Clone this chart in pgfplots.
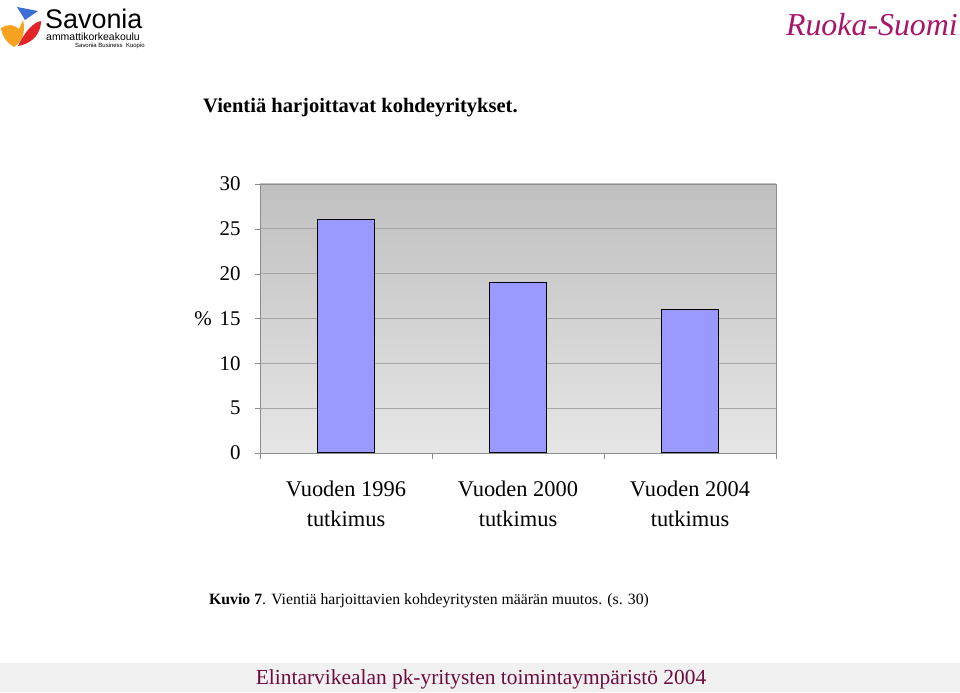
\documentclass[border=0pt]{standalone}
\usepackage{fontspec}
\setmainfont{Liberation Serif}
\setsansfont{Liberation Sans}
\usepackage{pgfplots}
\pgfplotsset{compat=1.18}
\definecolor{barblue}{HTML}{9999FF}
\definecolor{gridgray}{HTML}{A6A6A6}
\definecolor{framegray}{HTML}{8C8C8C}
\definecolor{footmaroon}{HTML}{6E0C3E}
\definecolor{ruoka}{HTML}{A8146A}
\definecolor{savred}{HTML}{E2232A}
\definecolor{savorange}{HTML}{F6A21E}
\definecolor{savblue}{HTML}{3B6FD6}
\begin{document}
\begin{tikzpicture}
% page
\path[fill=white] (0bp,0bp) rectangle (960bp,692bp);
% footer band
\path[fill=black!6] (0bp,0bp) rectangle (960bp,29bp);
\node[anchor=base, text=footmaroon, font=\fontsize{21.5}{26}\selectfont] at (481bp,7bp) {Elintarvikealan pk-yritysten toimintaympäristö 2004};
% logos
\path[fill=savorange] (1bp,664bp) .. controls (7bp,668bp) and (14bp,668bp) .. (19bp,663bp) -- (23bp,672bp) .. controls (26bp,660bp) and (22bp,650bp) .. (14bp,645bp) .. controls (6bp,650bp) and (2bp,656bp) .. (1bp,664bp) -- cycle;
\path[fill=savred] (18bp,646bp) .. controls (25bp,661bp) and (34bp,670bp) .. (41bp,671bp) .. controls (41bp,661bp) and (35bp,649bp) .. (18bp,646bp) -- cycle;
\path[fill=savblue] (17bp,685bp) -- (38bp,681bp) -- (25bp,672bp) -- cycle;
\node[anchor=base west, font=\sffamily\fontsize{27}{27}\selectfont, inner sep=0] at (45bp,663bp) {Savonia};
\node[anchor=base west, font=\sffamily\fontsize{10.5}{11}\selectfont, inner sep=0] at (46bp,651bp) {ammattikorkeakoulu};
\node[anchor=base west, font=\sffamily\fontsize{6}{6}\selectfont, inner sep=0] at (75bp,644bp) {Savonia Business\ \ Kuopio};
\node[anchor=base east, text=ruoka, font=\itshape\fontsize{32}{34}\selectfont, inner sep=0] at (958bp,656bp) {Ruoka-Suomi};
% title
\node[anchor=base west, font=\bfseries\fontsize{20.6}{24}\selectfont, inner sep=0] at (203bp,579bp) {Vientiä harjoittavat kohdeyritykset.};
% caption
\node[anchor=base west, font=\fontsize{15.8}{18}\selectfont, inner sep=0] at (209bp,87bp) {\textbf{Kuvio 7}. Vientiä harjoittavien kohdeyritysten määrän muutos. (s. 30)};
\begin{axis}[
    at={(260bp,239bp)}, anchor=south west,
    scale only axis,
    width=516bp, height=269bp,
    xmin=-0.5, xmax=2.5,
    ymin=0, ymax=30,
    ytick={0,5,...,30},
    xtick={0,1,2},
    xticklabels={{Vuoden 1996\\tutkimus},{Vuoden 2000\\tutkimus},{Vuoden 2004\\tutkimus}},
    minor xtick={-0.5,0.5,1.5,2.5},
    major x tick style={draw=none},
    minor x tick style={draw=framegray},
    minor tick length=6bp,
    major tick length=5bp,
    tick align=outside,
    tick pos=left,
    y tick style={draw=framegray},
    ymajorgrids,
    major grid style={gridgray, line width=0.8pt},
    axis line style={framegray, line width=0.8pt},
    axis background/.style={top color=black!25, bottom color=black!10},
    /pgf/number format/assume math mode=true,
    yticklabel style={font=\fontsize{21}{25}\selectfont, xshift=-11bp},
    xticklabel style={font=\fontsize{22.5}{31}\selectfont, align=center, yshift=-19bp},
    ylabel={\%},
    every axis y label/.style={at={(ticklabel cs:0.5)}, anchor=east, xshift=-1bp, font=\fontsize{21}{25}\selectfont},
]
\addplot[ybar, bar width=57bp, fill=barblue, draw=black, line width=1.2pt] coordinates {(0,26) (1,19) (2,16)};
\end{axis}
\end{tikzpicture}
\end{document}
